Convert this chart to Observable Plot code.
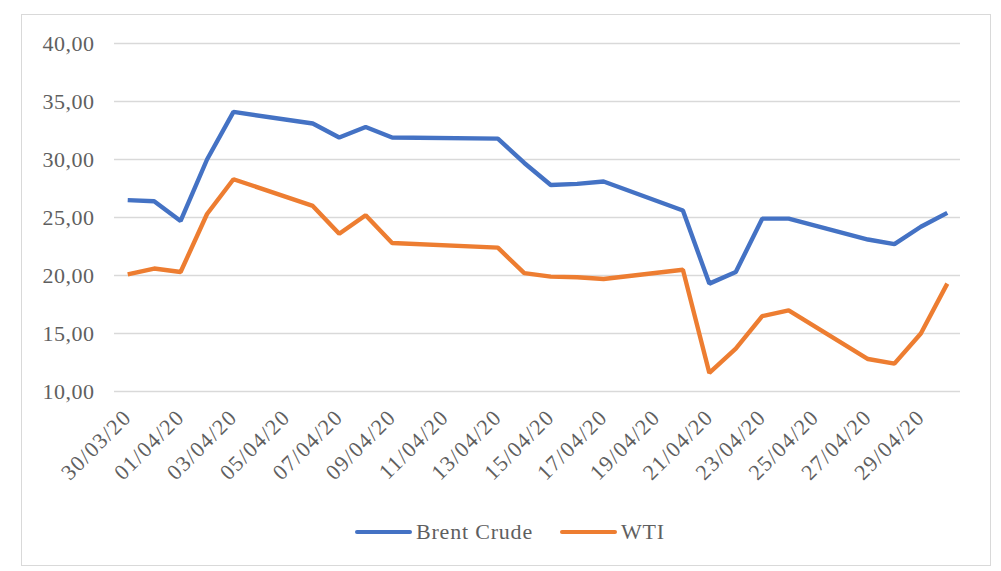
<!DOCTYPE html>
<html>
<head>
<meta charset="utf-8">
<script src="https://cdn.jsdelivr.net/npm/d3@7"></script>
<script src="https://cdn.jsdelivr.net/npm/@observablehq/plot@0.6"></script>
<style>
  html, body { margin: 0; padding: 0; background: #fff; }
  #wrap { position: relative; width: 1001px; height: 571px; overflow: hidden; }
  #frame { position: absolute; left: 21px; top: 14px; width: 970px; height: 552px; border: 1.5px solid #d9d9d9; box-sizing: border-box; }
  #chart { position: absolute; left: 0; top: 0; }
  #legend { position: absolute; top: 519px; left: 0; width: 1001px; height: 26px; font-family: "Liberation Serif", serif; font-size: 22px; letter-spacing: 0.8px; color: #5f5f5f; }
  .item { position: absolute; top: 0; display: flex; align-items: center; height: 26px; }
  .sw { display: inline-block; width: 57px; height: 4px; border-radius: 2px; margin-right: 4px; }
</style>
</head>
<body>
<div id="wrap">
  <div id="frame"></div>
  <div id="chart"></div>
  <div id="legend"></div>
</div>
<script>
const dates = ["30/03/20","31/03/20","01/04/20","02/04/20","03/04/20","06/04/20","07/04/20","08/04/20","09/04/20","13/04/20","14/04/20","15/04/20","16/04/20","17/04/20","20/04/20","21/04/20","22/04/20","23/04/20","24/04/20","27/04/20","28/04/20","29/04/20","30/04/20"];
const brent = [26.5, 26.4, 24.7, 30.0, 34.1, 33.1, 31.9, 32.8, 31.9, 31.8, 29.7, 27.8, 27.9, 28.1, 25.6, 19.3, 20.3, 24.9, 24.9, 23.1, 22.7, 24.2, 25.4];
const wti = [20.1, 20.6, 20.3, 25.3, 28.3, 26.0, 23.6, 25.2, 22.8, 22.4, 20.2, 19.9, 19.85, 19.7, 20.5, 11.6, 13.7, 16.5, 17.0, 12.8, 12.4, 15.0, 19.3];
const tickLabels = ["30/03/20","01/04/20","03/04/20","05/04/20","07/04/20","09/04/20","11/04/20","13/04/20","15/04/20","17/04/20","19/04/20","21/04/20","23/04/20","25/04/20","27/04/20","29/04/20"];
const yTicks = [10, 15, 20, 25, 30, 35, 40];
const seriesNames = ["Brent Crude", "WTI"];
const seriesColors = ["#4472C4", "#ED7D31"];

const parse = d3.utcParse("%d/%m/%y");
const rows = [];
dates.forEach((d, i) => {
  rows.push({date: parse(d), value: brent[i], series: seriesNames[0]});
  rows.push({date: parse(d), value: wti[i], series: seriesNames[1]});
});
const half = 12 * 3600 * 1000;
const x0 = new Date(parse(dates[0]).getTime() - half);
const x1 = new Date(parse(dates[dates.length - 1]).getTime() + half);
const fmtY = d => d3.format(".2f")(d).replace(".", ",");
const fmtX = d3.utcFormat("%d/%m/%y");

const plot = Plot.plot({
  width: 1001,
  height: 505,
  marginTop: 43,
  marginBottom: 114,
  marginLeft: 114,
  marginRight: 41,
  style: { fontFamily: "Liberation Serif, serif", fontSize: "22px", color: "#5f5f5f", background: "transparent" },
  x: { type: "utc", domain: [x0, x1] },
  y: { domain: [10, 40] },
  color: { domain: seriesNames, range: seriesColors },
  marks: [
    Plot.gridY(yTicks, { stroke: "#d9d9d9", strokeOpacity: 1, strokeWidth: 1.5 }),
    Plot.axisY(yTicks, { tickSize: 0, tickPadding: 20, tickFormat: fmtY, label: null, fill: "#5f5f5f", fontSize: 22 }),
    Plot.axisX(tickLabels.map(parse), { tickSize: 0, tickPadding: 22, tickRotate: -45, tickFormat: fmtX, label: null, fill: "#5f5f5f", fontSize: 22 }),
    Plot.line(rows, { x: "date", y: "value", z: "series", stroke: "series", strokeWidth: 4.4, strokeLinejoin: "miter", strokeLinecap: "butt" })
  ]
});
d3.select(plot).selectAll('g[aria-label="x-axis tick label"] text').attr("letter-spacing", "1.3px");
d3.select(plot).selectAll('g[aria-label="y-axis tick label"] text').attr("letter-spacing", "0.5px");
document.getElementById("chart").appendChild(plot);

const legend = document.getElementById("legend");
const lefts = [355, 560];
seriesNames.forEach((name, i) => {
  const item = document.createElement("div");
  item.className = "item";
  item.style.left = lefts[i] + "px";
  const sw = document.createElement("span");
  sw.className = "sw";
  sw.style.background = seriesColors[i];
  const t = document.createElement("span");
  t.textContent = name;
  item.appendChild(sw);
  item.appendChild(t);
  legend.appendChild(item);
});
</script>
</body>
</html>
